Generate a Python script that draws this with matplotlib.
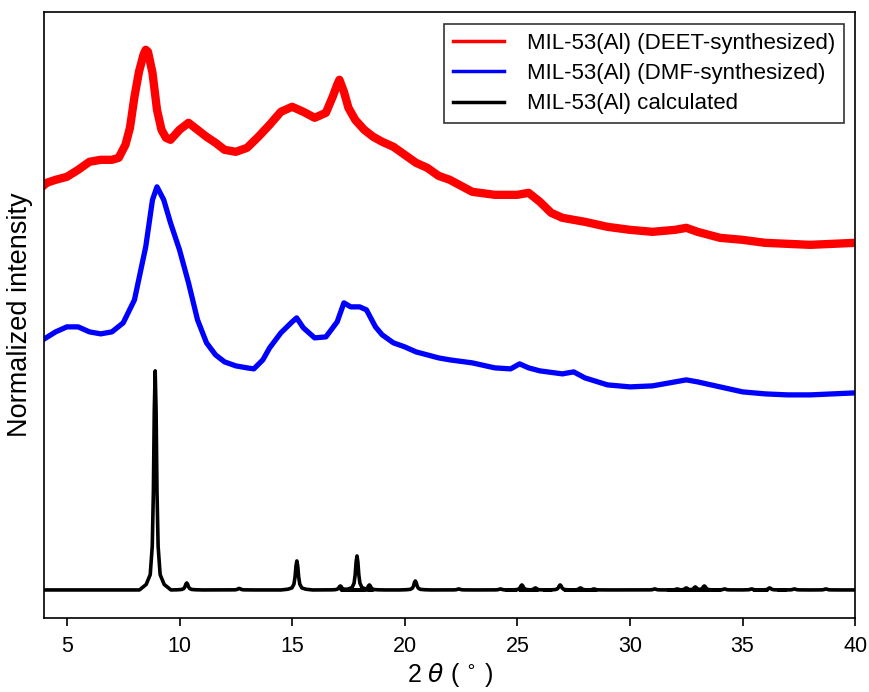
import numpy as np
import matplotlib
matplotlib.use("Agg")
from matplotlib import pyplot as plt
from matplotlib.lines import Line2D

plt.rcParams['font.family'] = ['Liberation Sans', 'DejaVu Sans']

# DEET-synthesized (red), heights
deet_x = [4.0, 4.1, 4.5, 5.0, 5.5, 6.0, 6.5, 7.0, 7.3, 7.6, 7.8, 8.0, 8.2, 8.4, 8.5,
          8.6, 8.8, 9.0, 9.2, 9.4, 9.6, 9.8, 10.0, 10.4, 10.8, 11.2, 11.6, 12.0, 12.5,
          13.0, 13.5, 14.0, 14.5, 15.0, 15.5, 16.0, 16.5, 16.8, 17.0, 17.1, 17.3, 17.5,
          17.8, 18.2, 18.6, 19.0, 19.5, 20.0, 20.5, 21.0, 21.5, 22.0, 23.0, 24.0, 25.0,
          25.5, 26.0, 26.5, 27.0, 28.0, 29.0, 30.0, 31.0, 32.0, 32.5, 33.0, 34.0, 35.0,
          36.0, 37.0, 38.0, 39.0, 40.0]
deet_y = [433, 435, 438, 441, 448, 456, 458, 458, 460, 473, 490, 521, 546, 563, 568,
          566, 545, 508, 488, 480, 478, 483, 488, 495, 488, 481, 475, 468, 466,
          470, 481, 493, 506, 511, 506, 500, 505, 521, 533, 538, 526, 510,
          498, 488, 481, 476, 471, 463, 455, 450, 442, 438, 426, 423, 423,
          425, 416, 405, 400, 396, 391, 388, 386, 388, 390, 386, 380, 378,
          375, 374, 373, 374, 375]

# DMF-synthesized (blue)
dmf_x = [4.0, 4.5, 5.0, 5.5, 6.0, 6.5, 7.0, 7.5, 8.0, 8.5, 8.8, 9.0, 9.3, 9.6, 10.0,
         10.4, 10.8, 11.2, 11.6, 12.0, 12.5, 13.0, 13.3, 13.7, 14.0, 14.5, 15.0, 15.2,
         15.5, 16.0, 16.5, 17.0, 17.3, 17.6, 18.0, 18.3, 18.7, 19.0, 19.5, 20.0, 20.5,
         21.0, 21.5, 22.0, 23.0, 24.0, 24.7, 25.1, 25.5, 26.0, 27.0, 27.5, 28.0, 29.0,
         30.0, 31.0, 32.0, 32.5, 33.0, 34.0, 35.0, 36.0, 37.0, 38.0, 39.0, 40.0]
dmf_y = [279, 286, 291, 291, 286, 284, 286, 295, 318, 371, 418, 431, 418, 395, 368,
         335, 298, 275, 263, 256, 252, 250, 249, 258, 270, 285, 296, 300,
         290, 280, 281, 296, 315, 311, 311, 308, 291, 283, 275, 271, 266,
         263, 260, 258, 255, 250, 249, 254, 250, 247, 244, 246, 240, 233,
         231, 232, 236, 238, 236, 231, 226, 224, 223, 223, 224, 225]

# calculated pattern: peak positions and heights above the baseline
calc_base = 28
calc_pos = [8.92, 10.32, 12.65, 15.21, 17.14, 17.88, 18.43, 20.47, 22.4, 24.25,
            25.2, 25.8, 26.9, 27.8, 28.4, 31.1, 32.1, 32.5, 32.9, 33.3, 34.2,
            35.4, 36.2, 37.3, 38.7]
calc_h = [219, 7, 1.5, 29, 4, 34, 5, 9, 1, 1,
          5, 2, 5, 2, 1, 1, 1, 2, 3, 4, 1,
          1, 2, 1, 1]
# peak outline used for every reflection (offset in degrees, fraction of height)
shape_dx = [-0.7, -0.4, -0.22, -0.13, -0.08, -0.04, 0.0, 0.04, 0.08, 0.13, 0.22, 0.4, 0.7]
shape_f = [0.0, 0.025, 0.07, 0.2, 0.45, 0.82, 1.0, 0.82, 0.45, 0.2, 0.07, 0.025, 0.0]

cx = [4.0]
cy = [calc_base]
for p, h in zip(calc_pos, calc_h):
    for dx, f in zip(shape_dx, shape_f):
        cx.append(p + dx)
        cy.append(calc_base + h * f)
cx.append(40.0)
cy.append(calc_base)

fig = plt.figure(figsize=(8.7, 6.92), dpi=100)
ax = fig.add_axes([0.051, 0.107, 0.932, 0.876])

ax.plot(deet_x, deet_y, color='red', lw=6, solid_joinstyle='round')
ax.plot(dmf_x, dmf_y, color='blue', lw=3.8, solid_joinstyle='round')
ax.plot(cx, cy, color='black', lw=2.6)

ax.set_xlim(4, 40)
ax.set_ylim(0, 606)
ax.set_xticks([5, 10, 15, 20, 25, 30, 35, 40])
ax.set_yticks([])
ax.tick_params(axis='x', direction='out', length=6, width=1.2, labelsize=15.5, pad=7)
for s in ax.spines.values():
    s.set_linewidth(1.2)

ax.set_xlabel(r'2 $\theta$ ( $^{\circ}$ )', fontsize=18, labelpad=3)
ax.set_ylabel('Normalized intensity', fontsize=19.5, labelpad=8)

handles = [Line2D([], [], color='red', lw=2.5),
           Line2D([], [], color='blue', lw=2.5),
           Line2D([], [], color='black', lw=2.5)]
labels = ['MIL-53(Al) (DEET-synthesized)', 'MIL-53(Al) (DMF-synthesized)',
          'MIL-53(Al) calculated']
leg = ax.legend(handles, labels, loc='upper right', fontsize=16, fancybox=False,
                edgecolor='#333333', framealpha=1, handlelength=2.3,
                handletextpad=1.0, borderpad=0.4, labelspacing=0.42,
                bbox_to_anchor=(0.9995, 0.9985))
leg.get_frame().set_linewidth(1.2)

fig.savefig('out.png', dpi=100)
